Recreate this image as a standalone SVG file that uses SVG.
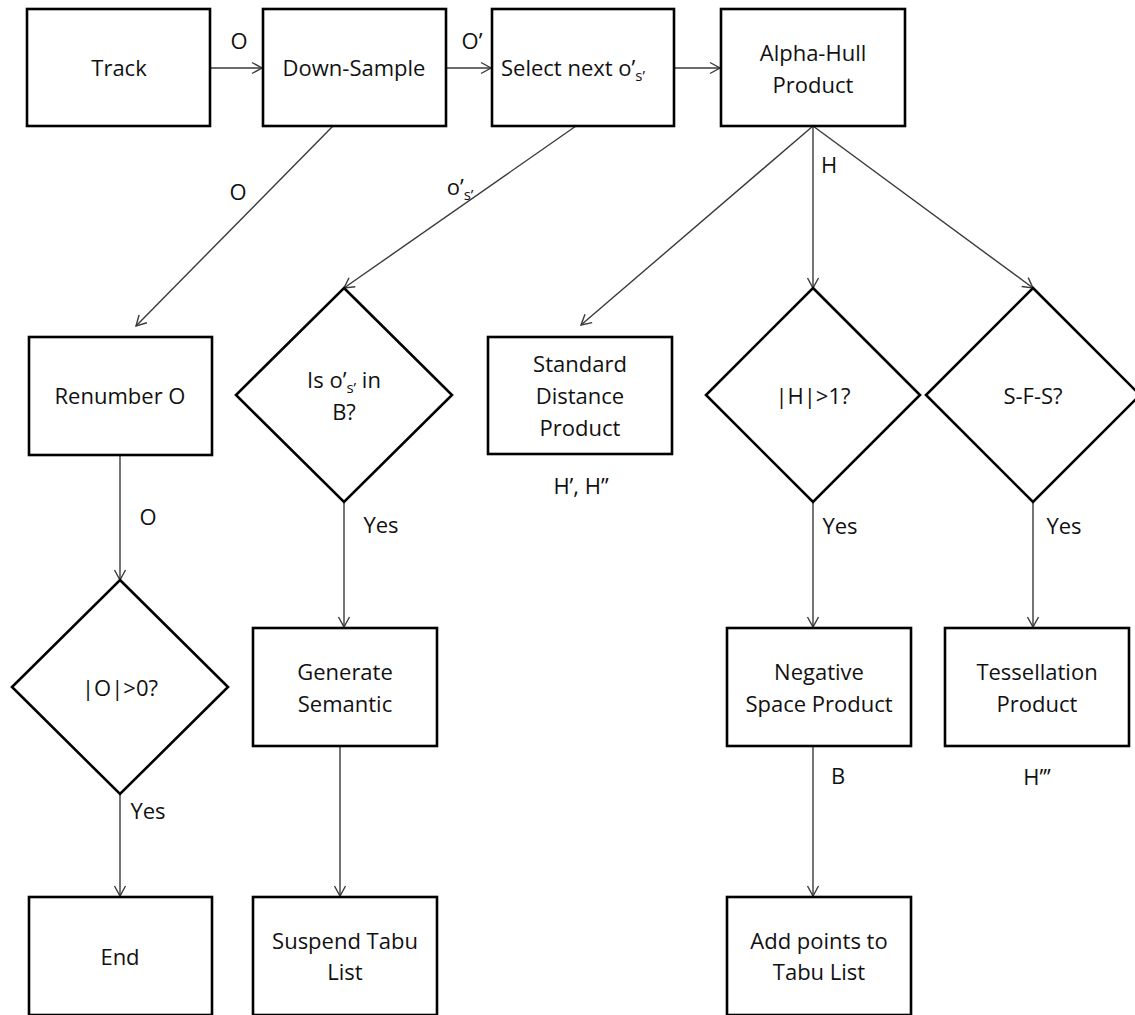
<svg xmlns="http://www.w3.org/2000/svg" width="1135" height="1015" viewBox="0 0 1135 1015">
  <style>
    .box { fill: #ffffff; stroke: #000000; stroke-width: 2.6; }
    .dec { fill: #ffffff; stroke: #000000; stroke-width: 2.6; }
    .lbl { font-family: "Open Sans", "Liberation Sans", sans-serif; font-size: 22px; fill: #111111; text-anchor: middle; }
    .edge { fill: none; stroke: #3a3a3a; stroke-width: 1.4; marker-end: url(#arrow); }
    .sub { font-size: 15px; }
  </style>
  <defs>
    <marker id="arrow" markerUnits="userSpaceOnUse" markerWidth="14" markerHeight="14" viewBox="0 0 14 14" refX="12" refY="7" orient="auto">
      <path d="M2,1.5 L12,7 L2,12.5" fill="none" stroke="#3a3a3a" stroke-width="1.4"/>
    </marker>
  </defs>

  <rect width="1135" height="1015" fill="#ffffff"/>

  <!-- connectors and their labels -->
  <g id="connectors">
    <line class="edge" x1="210" y1="68" x2="262" y2="68"/>
    <line class="edge" x1="446" y1="68" x2="491" y2="68"/>
    <line class="edge" x1="674" y1="68" x2="720" y2="68"/>
    <line class="edge" x1="333" y1="126" x2="136" y2="326"/>
    <line class="edge" x1="576" y1="126" x2="344" y2="288"/>
    <line class="edge" x1="813" y1="126" x2="581" y2="325"/>
    <line class="edge" x1="813" y1="126" x2="813" y2="288"/>
    <line class="edge" x1="813" y1="126" x2="1033" y2="288"/>
    <line class="edge" x1="120" y1="455" x2="120" y2="580"/>
    <line class="edge" x1="120" y1="794" x2="120" y2="896"/>
    <line class="edge" x1="344" y1="502" x2="344" y2="627"/>
    <line class="edge" x1="340" y1="746" x2="340" y2="896"/>
    <line class="edge" x1="813" y1="502" x2="813" y2="627"/>
    <line class="edge" x1="813" y1="746" x2="813" y2="896"/>
    <line class="edge" x1="1033" y1="502" x2="1033" y2="627"/>

    <text class="lbl" x="239" y="49">O</text>
    <text class="lbl" x="472" y="49">O’</text>
    <text class="lbl" x="238" y="200">O</text>
    <text class="lbl" x="460" y="195">o’<tspan class="sub" dy="5">s’</tspan></text>
    <text class="lbl" x="829" y="173">H</text>
    <text class="lbl" x="581" y="494">H’, H”</text>
    <text class="lbl" x="148" y="525">O</text>
    <text class="lbl" x="148" y="819">Yes</text>
    <text class="lbl" x="381" y="533">Yes</text>
    <text class="lbl" x="840" y="534">Yes</text>
    <text class="lbl" x="1064" y="534">Yes</text>
    <text class="lbl" x="838" y="784">B</text>
    <text class="lbl" x="1037" y="785">H’’’</text>
  </g>

  <g id="track">
    <rect class="box" x="27" y="9" width="183" height="117"/>
    <text class="lbl" x="119" y="76">Track</text>
  </g>
  <g id="down-sample">
    <rect class="box" x="263" y="9" width="183" height="117"/>
    <text class="lbl" x="354" y="76">Down-Sample</text>
  </g>
  <g id="select-next">
    <rect class="box" x="492" y="9" width="182" height="117"/>
    <text class="lbl" x="573" y="76">Select next o’<tspan class="sub" dy="5">s’</tspan></text>
  </g>
  <g id="alpha-hull">
    <rect class="box" x="721" y="9" width="184" height="117"/>
    <text class="lbl" x="813" y="61">Alpha-Hull</text>
    <text class="lbl" x="813" y="93">Product</text>
  </g>

  <g id="renumber">
    <rect class="box" x="29" y="337" width="183" height="118"/>
    <text class="lbl" x="120" y="404">Renumber O</text>
  </g>
  <g id="in-b">
    <polygon class="dec" points="344,288 452,395 344,502 236,395"/>
    <text class="lbl" x="344" y="388">Is o’<tspan class="sub" dy="5">s’</tspan><tspan dy="-5"> in</tspan></text>
    <text class="lbl" x="344" y="420">B?</text>
  </g>
  <g id="standard-distance">
    <rect class="box" x="488" y="337" width="184" height="117"/>
    <text class="lbl" x="580" y="372">Standard</text>
    <text class="lbl" x="580" y="404">Distance</text>
    <text class="lbl" x="580" y="436">Product</text>
  </g>
  <g id="h-count">
    <polygon class="dec" points="813,288 920,395 813,502 706,395"/>
    <text class="lbl" x="813" y="404">|H|&gt;1?</text>
  </g>
  <g id="sfs">
    <polygon class="dec" points="1033,288 1140,395 1033,502 926,395"/>
    <text class="lbl" x="1033" y="404">S-F-S?</text>
  </g>

  <g id="o-count">
    <polygon class="dec" points="120,580 228,687 120,794 12,687"/>
    <text class="lbl" x="120" y="696">|O|&gt;0?</text>
  </g>
  <g id="generate-semantic">
    <rect class="box" x="253" y="628" width="184" height="118"/>
    <text class="lbl" x="345" y="680">Generate</text>
    <text class="lbl" x="345" y="712">Semantic</text>
  </g>
  <g id="negative-space">
    <rect class="box" x="727" y="628" width="184" height="118"/>
    <text class="lbl" x="819" y="680">Negative</text>
    <text class="lbl" x="819" y="712">Space Product</text>
  </g>
  <g id="tessellation">
    <rect class="box" x="945" y="628" width="184" height="118"/>
    <text class="lbl" x="1037" y="680">Tessellation</text>
    <text class="lbl" x="1037" y="712">Product</text>
  </g>

  <g id="end">
    <rect class="box" x="29" y="897" width="183" height="118"/>
    <text class="lbl" x="120" y="965">End</text>
  </g>
  <g id="suspend-tabu">
    <rect class="box" x="253" y="897" width="184" height="118"/>
    <text class="lbl" x="345" y="949">Suspend Tabu</text>
    <text class="lbl" x="345" y="980">List</text>
  </g>
  <g id="add-points">
    <rect class="box" x="727" y="897" width="184" height="118"/>
    <text class="lbl" x="819" y="949">Add points to</text>
    <text class="lbl" x="819" y="980">Tabu List</text>
  </g>
</svg>
